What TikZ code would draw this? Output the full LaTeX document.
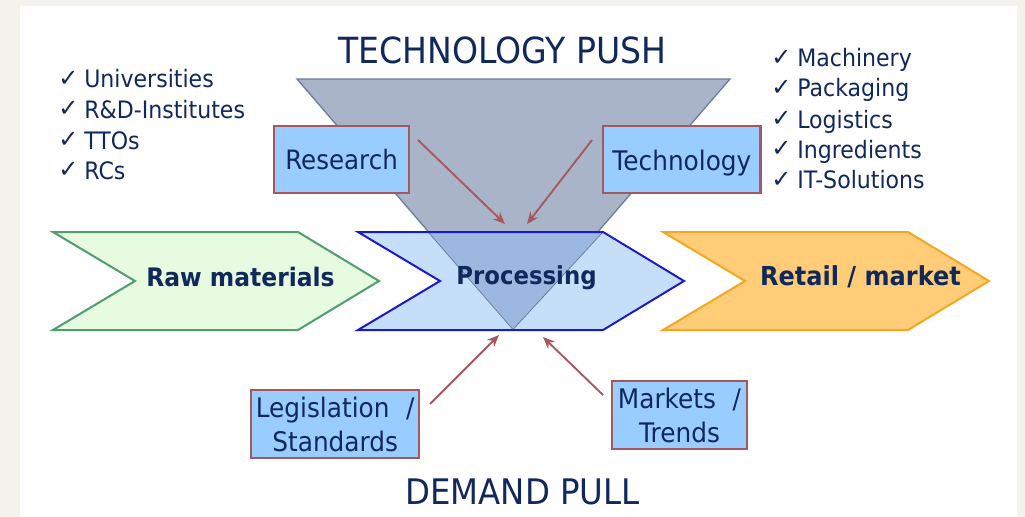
\documentclass[tikz,border=0pt]{standalone}
\usepackage{fontspec}
\setmainfont[FakeStretch=0.92]{DejaVu Sans}
\newfontfamily\chk{DejaVu Sans}
\usetikzlibrary{arrows.meta}
\definecolor{pagebg}{HTML}{F3F2EC}
\definecolor{ink}{HTML}{10285C}
\definecolor{boxfill}{HTML}{99CCFF}
\definecolor{boxline}{HTML}{A5585E}
\definecolor{arrowc}{HTML}{A5585E}
\definecolor{trifill}{HTML}{A9B4C9}
\definecolor{triline}{HTML}{6E7F9C}
\definecolor{overlap}{HTML}{9DB8E0}
\definecolor{rawfill}{HTML}{E6FBE0}
\definecolor{rawline}{HTML}{4E9E6E}
\definecolor{procfill}{HTML}{C5DFFB}
\definecolor{procline}{HTML}{1A1ACC}
\definecolor{retailfill}{HTML}{FFCC77}
\definecolor{retailline}{HTML}{F5A623}
\newcommand{\fs}[2]{\fontsize{#1pt}{#2pt}\selectfont}
\tikzset{
  x=0.75pt,y=-0.75pt,
  chev/.style={line width=1.5pt,line join=miter},
  label box/.style={draw=boxline,fill=boxfill,line width=1.8pt,inner sep=0pt,text=ink,align=center,anchor=north west},
  flow/.style={draw=arrowc,line width=1.4pt,-{Stealth[length=9pt,width=7.5pt]}},
  headline/.style={text=ink,inner sep=0pt},
  chevtext/.style={text=ink,inner sep=0pt},
  listitem/.style={text=ink,inner sep=0pt,anchor=base west,font=\fs{18}{21}},
}
\newcommand{\tick}{\makebox[19.5pt][l]{\raisebox{0.8pt}{\chk\fontsize{18}{18}\selectfont ✓}}}
\begin{document}
\begin{tikzpicture}
\useasboundingbox (0,0) rectangle (1025,517);
\fill[pagebg] (0,0) rectangle (1025,517);
\fill[white] (20,6) rectangle (1017,517);
% triangle
\draw[fill=trifill,draw=triline,line width=1pt] (297,79) -- (730,79) -- (513,330) -- cycle;
% chevrons
\draw[chev,draw=rawline,fill=rawfill] (53,232) -- (298,232) -- (379,281) -- (298,330) -- (53,330) -- (135,281) -- cycle;
\fill[procfill] (359.5,233) -- (602,233) -- (682,281) -- (602,329) -- (359.5,329) -- (441,281) -- cycle;
\fill[overlap] (429,233) -- (602,233) -- (513,329.5) -- cycle;
\draw[triline,line width=.6pt] (429,233) -- (513,329.5) -- (602,233);
\draw[chev,draw=procline] (358,232) -- (603,232) -- (684,281) -- (603,330) -- (358,330) -- (440,281) -- cycle;
\draw[chev,draw=retailline,fill=retailfill] (663,232) -- (908,232) -- (989,281) -- (908,330) -- (663,330) -- (745,281) -- cycle;
% chevron labels
\node[chevtext,font=\fs{19.1}{24}\bfseries] (raw) at (240.5,277) {Raw materials};
\node[chevtext,font=\fs{18.6}{24}\bfseries] (proc) at (526.5,278) {Processing};
\node[chevtext,font=\fs{19.6}{24}\bfseries] (retail) at (860.5,277) {Retail / market};
% headings
\node[headline,font=\fs{27}{30}] (push) at (502.5,50) {TECHNOLOGY PUSH};
\node[headline,font=\fs{26.4}{30}] (pull) at (522.5,492) {DEMAND PULL};
% boxes
\node[label box,minimum width=101pt,minimum height=50pt,font=\fs{20}{25}] (research) at (273,125) {Research};
\node[label box,minimum width=118pt,minimum height=50pt,font=\fs{20.2}{25},text height=19pt,text depth=1.8pt] (tech) at (602,125) {Technology};
\node[label box,minimum width=126pt,minimum height=51pt,font=\fs{20.2}{25.5}] (legis) at (250,389) {Legislation\hspace{0.62em}/\\Standards};
\node[label box,minimum width=101pt,minimum height=51pt,font=\fs{20.2}{25.5}] (markets) at (611,380) {Markets\hspace{0.62em}/\\Trends};
% connectors
\coordinate (a1) at (418,140); \coordinate (a2) at (505,224);
\coordinate (b1) at (592,140); \coordinate (b2) at (527,224);
\coordinate (c1) at (430,404); \coordinate (c2) at (499,335);
\coordinate (d1) at (603,395); \coordinate (d2) at (543,337);
\draw[flow] (a1) -- (a2);
\draw[flow] (b1) -- (b2);
\draw[flow] (c1) -- (c2);
\draw[flow] (d1) -- (d2);
% lists
\node[listitem] (l1) at (58,88) {\tick Universities};
\node[listitem] (l2) at (58,118) {\tick R\&D-Institutes};
\node[listitem] (l3) at (58,149) {\tick TTOs};
\node[listitem] (l4) at (58,179) {\tick RCs};
\node[listitem] (r1) at (771,67) {\tick Machinery};
\node[listitem] (r2) at (771,97) {\tick Packaging};
\node[listitem] (r3) at (771,128) {\tick Logistics};
\node[listitem] (r4) at (771,158) {\tick Ingredients};
\node[listitem] (r5) at (771,188.5) {\tick IT-Solutions};
\end{tikzpicture}
\end{document}
